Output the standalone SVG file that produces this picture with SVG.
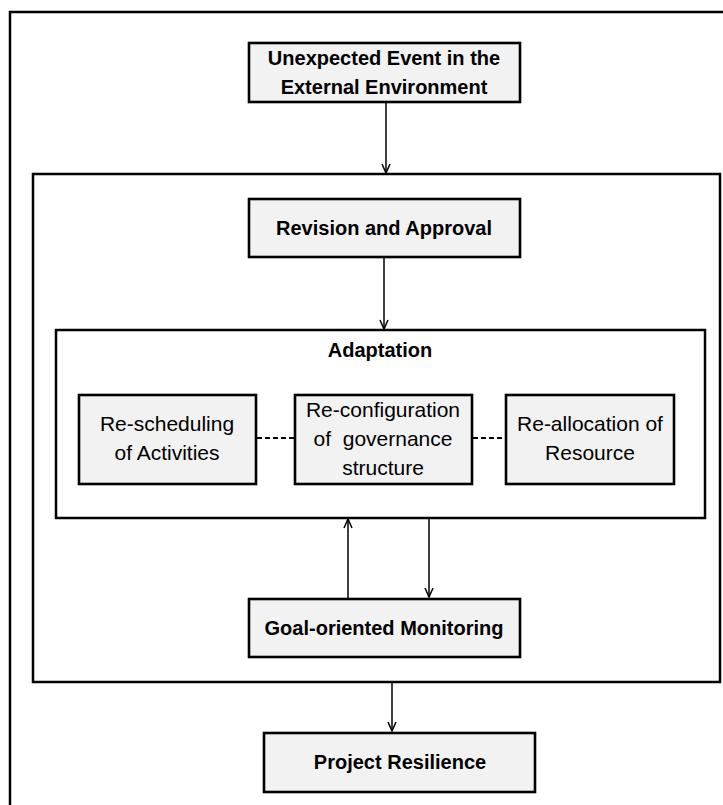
<svg xmlns="http://www.w3.org/2000/svg" width="723" height="805" viewBox="0 0 723 805">
<defs>
<style>
.frame{fill:none;stroke:#000;stroke-width:2.5}
.box{fill:#f2f2f2;stroke:#000;stroke-width:2.6}
.b{font-family:"Liberation Sans",Arial,sans-serif;font-weight:bold;font-size:20px;fill:#000;text-anchor:middle}
.r{font-family:"Liberation Sans",Arial,sans-serif;font-size:21px;fill:#000;text-anchor:middle}
.arr{stroke:#000;stroke-width:1.5;fill:none;marker-end:url(#ah)}
.dash{stroke:#000;stroke-width:1.8;stroke-dasharray:5,3;fill:none}
</style>
<marker id="ah" viewBox="0 0 12 12" refX="11" refY="6" markerWidth="12" markerHeight="12" markerUnits="userSpaceOnUse" orient="auto">
<path d="M2,2 L11,6 L2,10" fill="none" stroke="#000" stroke-width="1.5"/>
</marker>
</defs>
<rect width="723" height="805" fill="#fff"/>
<g id="outer-frame"><rect class="frame" x="10" y="12" width="730" height="810"/></g>
<g id="middle-frame"><rect class="frame" x="33" y="174" width="687" height="508"/></g>
<g id="adaptation"><rect class="frame" x="56" y="330" width="649" height="188"/>
<text class="b" x="380" y="357">Adaptation</text></g>
<g id="event"><rect class="box" x="249" y="43" width="271" height="59"/>
<text class="b" x="384" y="65">Unexpected Event in the</text>
<text class="b" x="384" y="94">External Environment</text></g>
<g id="revision"><rect class="box" x="249" y="199" width="271" height="58"/>
<text class="b" x="384" y="235">Revision and Approval</text></g>
<g id="rescheduling"><rect class="box" x="79" y="395" width="177" height="89"/>
<text class="r" x="167" y="431">Re-scheduling</text>
<text class="r" x="167" y="460">of Activities</text></g>
<g id="reconfiguration"><rect class="box" x="295" y="395" width="177" height="89"/>
<text class="r" x="383" y="417">Re-configuration</text>
<text class="r" x="383" y="446" xml:space="preserve">of  governance</text>
<text class="r" x="383" y="475">structure</text></g>
<g id="reallocation"><rect class="box" x="506" y="395" width="168" height="89"/>
<text class="r" x="590" y="431">Re-allocation of</text>
<text class="r" x="590" y="460">Resource</text></g>
<g id="monitoring"><rect class="box" x="249" y="599" width="271" height="58"/>
<text class="b" x="384" y="635">Goal-oriented Monitoring</text></g>
<g id="resilience"><rect class="box" x="264" y="733" width="271" height="59"/>
<text class="b" x="400" y="769">Project Resilience</text></g>
<g id="connectors">
<line class="arr" x1="386" y1="102" x2="386" y2="173"/>
<line class="arr" x1="384" y1="257" x2="384" y2="329"/>
<line class="arr" x1="348" y1="598" x2="348" y2="519"/>
<line class="arr" x1="429" y1="519" x2="429" y2="597"/>
<line class="arr" x1="392" y1="683" x2="392" y2="731"/>
<line class="dash" x1="257" y1="438" x2="294" y2="438"/>
<line class="dash" x1="473" y1="438" x2="505" y2="438"/>
</g>
</svg>
